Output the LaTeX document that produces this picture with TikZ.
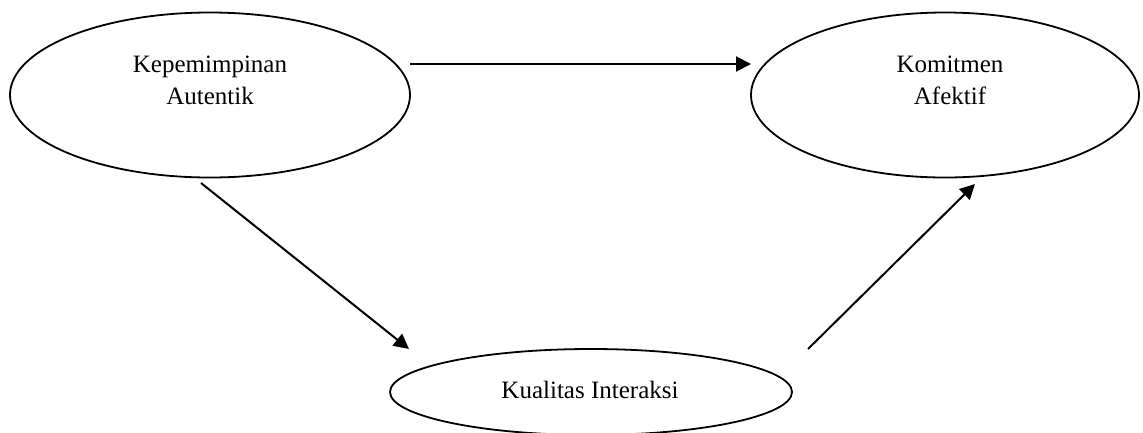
\documentclass[tikz,border=0pt]{standalone}
\usepackage{fontspec}
\setmainfont{Liberation Serif}
\usetikzlibrary{shapes.geometric,arrows.meta}
\tikzset{
  oval/.style={draw, ellipse, line width=1.8pt, inner sep=0pt},
  lbl/.style={align=center, font=\fontsize{25}{32}\selectfont, inner sep=0pt},
  conn/.style={line width=2pt, -{Triangle[length=15pt,width=15pt]}}
}
\begin{document}
\begin{tikzpicture}[x=1pt,y=-1pt]
\useasboundingbox (0,0) rectangle (1143,432);
\clip (0,0) rectangle (1143,432);
\node[oval, minimum width=400pt, minimum height=165pt] (L) at (210,95) {};
\node[oval, minimum width=388pt, minimum height=165pt] (R) at (945,95) {};
\node[oval, minimum width=402pt, minimum height=86pt] (B) at (591,392) {};
\node[lbl] (Lt) at (210,80) {Kepemimpinan\\Autentik};
\node[lbl] (Rt) at (950,80) {Komitmen\\Afektif};
\node[lbl] (Bt) at (590,390) {Kualitas Interaksi};
\coordinate (a1) at (410,64);
\coordinate (a2) at (751,64);
\coordinate (b1) at (201,183);
\coordinate (b2) at (409,349);
\coordinate (c1) at (808,349);
\coordinate (c2) at (975,184);
\draw[conn] (a1) -- (a2);
\draw[conn] (b1) -- (b2);
\draw[conn] (c1) -- (c2);
\end{tikzpicture}
\end{document}
